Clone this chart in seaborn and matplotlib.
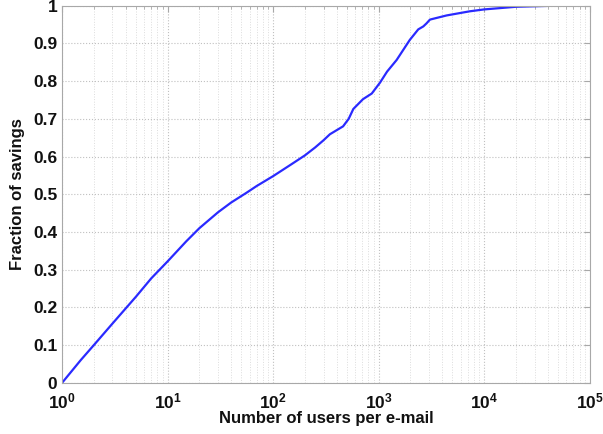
import numpy as np
import pandas as pd
import seaborn as sns
import matplotlib.pyplot as plt
from matplotlib.ticker import LogLocator, FixedLocator

# values
users = [1, 1.5, 2, 3, 5, 7, 10, 15, 20, 30, 40, 56, 70, 100, 150, 200, 250, 300, 345, 460,
         520, 575, 710, 860, 1030, 1200, 1480, 1970, 2370, 2650, 2840, 3060, 4400,
         7300, 10000, 20000, 50000, 100000]
savings = [0.0, 0.06, 0.10, 0.157, 0.228, 0.277, 0.322, 0.375, 0.41, 0.452, 0.478, 0.504,
           0.522, 0.548, 0.58, 0.603, 0.624, 0.643, 0.659, 0.68, 0.70, 0.726, 0.752, 0.767,
           0.796, 0.825, 0.856, 0.909, 0.937, 0.945, 0.953, 0.963, 0.974, 0.985, 0.99,
           0.997, 1.0, 1.0]
ytick_vals = [0, 0.1, 0.2, 0.3, 0.4, 0.5, 0.6, 0.7, 0.8, 0.9, 1]
ytick_text = ['0', '0.1', '0.2', '0.3', '0.4', '0.5', '0.6', '0.7', '0.8', '0.9', '1']

df = pd.DataFrame({'users': users, 'savings': savings})

sns.set_style('white')
plt.rcParams['font.family'] = ['Liberation Sans', 'DejaVu Sans']
plt.rcParams['font.weight'] = 'bold'
plt.rcParams['mathtext.fontset'] = 'custom'
plt.rcParams['mathtext.rm'] = 'Liberation Sans:bold'
plt.rcParams['mathtext.default'] = 'rm'

fig, ax = plt.subplots(figsize=(6.03, 4.34), dpi=100)
fig.subplots_adjust(left=0.103, right=0.978, top=0.987, bottom=0.118)

sns.lineplot(data=df, x='users', y='savings', color='#2a2aff', linewidth=1.6, ax=ax)
ax.set_xscale('log')
ax.set_xlim(1, 1e5)
ax.set_ylim(0, 1)

ax.yaxis.set_major_locator(FixedLocator(ytick_vals))
ax.set_yticklabels(ytick_text)
ax.xaxis.set_major_locator(LogLocator(base=10, numticks=10))
ax.xaxis.set_minor_locator(LogLocator(base=10, subs=np.arange(2, 10), numticks=20))

ax.grid(True, which='major', linestyle=':', color='#c0c0c0', linewidth=0.8)
ax.grid(True, which='minor', axis='x', linestyle=':', color='#dcdcdc', linewidth=0.7)

for s in ax.spines.values():
    s.set_color('#a8a8a8')
    s.set_linewidth(0.8)
ax.tick_params(which='both', direction='in', top=True, right=True, color='#a8a8a8',
               labelsize=12.5, labelcolor='#111111')
ax.tick_params(which='major', length=4)
ax.tick_params(which='minor', length=2)
ax.tick_params(axis='x', pad=6)
for lab in ax.get_xticklabels() + ax.get_yticklabels():
    lab.set_fontweight('bold')

ax.set_xlabel('Number of users per e-mail', fontsize=12, fontweight='bold', labelpad=0,
              color='#111111')
ax.set_ylabel('Fraction of savings', fontsize=12, fontweight='bold', labelpad=6,
              color='#111111')

fig.savefig('out.png', dpi=100)
